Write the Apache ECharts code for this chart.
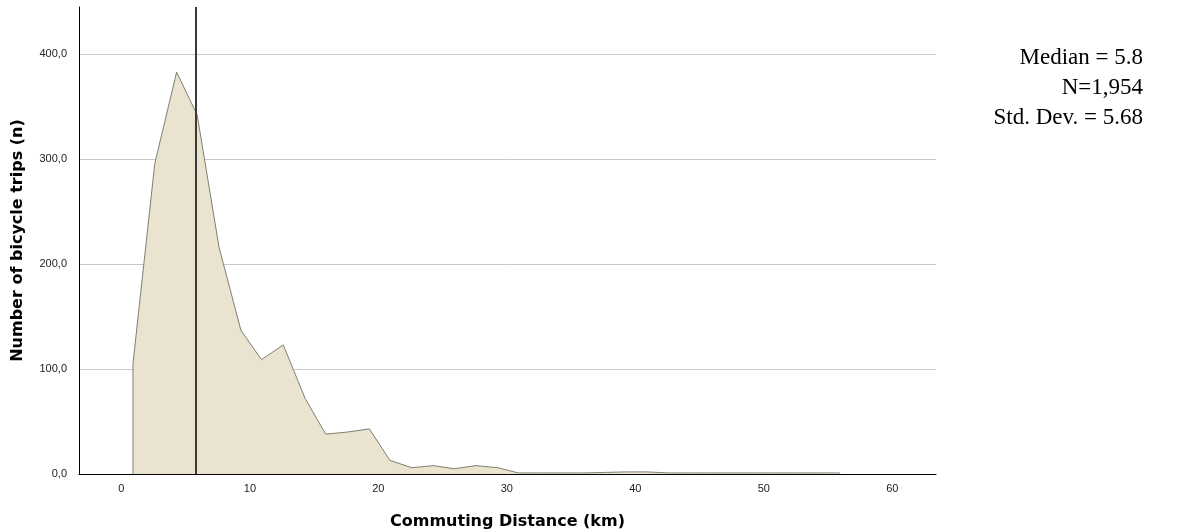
<!DOCTYPE html>
<html>
<head>
	<meta charset="utf-8">
	<title>Commuting Distance</title>
	<script src="https://cdn.jsdelivr.net/npm/echarts@6/dist/echarts.min.js"></script>
	<style type="text/css">
		* {
			margin: 0;
			padding: 0;
		}

		body {
			background: #fff;
		}
	</style>
</head>
<body>
<div id="main" style="width:1179px;height:532px;"></div>
<script type="text/javascript">
    // frequency polygon
    var distances = [0.9, 0.9, 2.6, 4.3, 5.9, 7.6, 9.3, 10.9, 12.6, 14.3, 15.9, 17.6, 19.3, 20.9, 22.6, 24.3, 25.9,
        27.6, 29.3, 30.9, 32.6, 34.3, 35.9, 37.6, 39.3, 40.9, 42.6, 44.3, 45.9, 47.6, 49.3, 50.9, 52.6, 54.3, 55.9, 55.9];
    var trips = [0, 105, 296, 383, 342, 216, 137, 109, 123, 72, 38, 40, 43, 13, 6, 8, 5,
        8, 6, 1, 1, 1, 1, 1.5, 2, 2, 1, 1, 1, 1, 1, 1, 1, 1, 1, 0];
    var xTicks = [0, 10, 20, 30, 40, 50, 60];
    var median = 5.8;
    var statLines = ['Median = 5.8', 'N=1,954', 'Std. Dev. = 5.68'];

    var points = [];
    for (var i = 0; i < distances.length; i++) {
        points.push([distances[i], trips[i]]);
    }

    var myChart = echarts.init(document.getElementById('main'));
    var labelFont = 'Liberation Sans';
    var titleFont = 'DejaVu Sans';

    var graphics = [];
    for (var j = 0; j < statLines.length; j++) {
        graphics.push({
            type: 'text',
            right: 36,
            top: 46 + j * 30,
            style: {
                text: statLines[j],
                fontFamily: 'Liberation Serif',
                fontSize: 23,
                fill: '#000',
                textAlign: 'right'
            }
        });
    }

    var option = {
        animation: false,
        grid: {
            left: 79,
            right: 243,
            top: 7,
            bottom: 58,
            outerBoundsMode: 'none'
        },
        xAxis: {
            type: 'value',
            min: -3.3,
            max: 63.4,
            name: 'Commuting Distance (km)',
            nameLocation: 'middle',
            nameGap: 40,
            nameTextStyle: {
                fontFamily: titleFont,
                fontWeight: 'bold',
                fontSize: 16,
                color: '#000'
            },
            axisLine: {
                show: true,
                lineStyle: {color: '#000', width: 1}
            },
            axisTick: {show: false},
            splitLine: {show: false},
            axisLabel: {
                customValues: xTicks,
                margin: 9,
                fontFamily: labelFont,
                fontSize: 11,
                color: '#222'
            }
        },
        yAxis: {
            type: 'value',
            min: 0,
            max: 445,
            interval: 100,
            name: 'Number of bicycle trips (n)',
            nameLocation: 'middle',
            nameGap: 53,
            nameTextStyle: {
                fontFamily: titleFont,
                fontWeight: 'bold',
                fontSize: 16,
                color: '#000'
            },
            axisLine: {
                show: true,
                onZero: false,
                lineStyle: {color: '#000', width: 1}
            },
            axisTick: {show: false},
            splitLine: {
                show: true,
                showMaxLine: false,
                lineStyle: {color: '#c8c8c8', width: 1}
            },
            axisLabel: {
                margin: 12,
                fontFamily: labelFont,
                fontSize: 11,
                color: '#222',
                showMaxLabel: false,
                formatter: function (v) {
                    return v.toFixed(1).replace('.', ',');
                }
            }
        },
        graphic: graphics,
        series: [
            {
                type: 'line',
                data: points,
                symbol: 'none',
                lineStyle: {color: '#7f7f72', width: 1},
                areaStyle: {color: '#e9e3cf', opacity: 1},
                markLine: {
                    silent: true,
                    symbol: 'none',
                    label: {show: false},
                    lineStyle: {color: '#3a3a3a', width: 2, type: 'solid'},
                    data: [{xAxis: median}]
                },
                z: 2
            }
        ]
    };
    myChart.setOption(option);
</script>
</body>
</html>
